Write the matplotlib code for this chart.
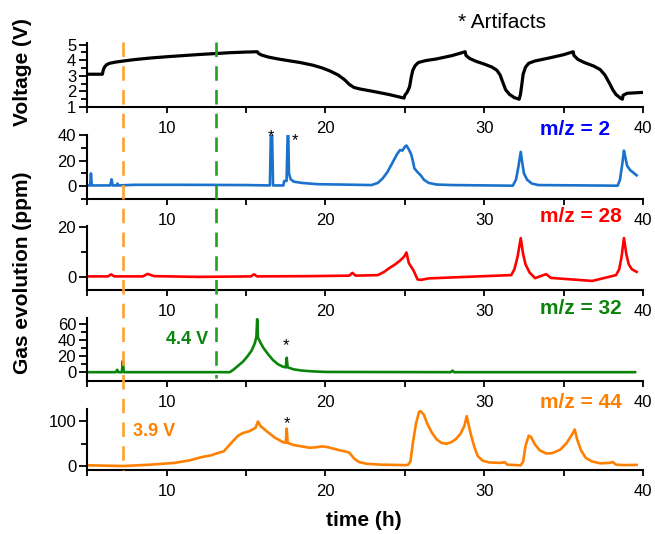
import matplotlib
matplotlib.use("Agg")
import matplotlib.pyplot as plt
from matplotlib.lines import Line2D
from matplotlib.transforms import blended_transform_factory
from matplotlib.ticker import MultipleLocator, FixedLocator

plt.rcParams['font.family'] = ['Liberation Sans', 'DejaVu Sans']

# =========================
# DATA
# =========================
v_t = [5.0, 5.95, 6.0, 6.08, 6.2, 6.4, 6.8, 7.3, 8, 9, 10, 11, 12, 13, 14, 15, 15.7,
       15.8, 16.0, 16.4, 17, 17.6, 18.4, 19.2, 19.8, 20.3, 20.8, 21.2, 21.5, 21.8,
       22.2, 23, 24, 24.95,
       25.0, 25.15, 25.3, 25.4, 25.5, 25.65, 25.85, 26.3, 27, 28, 28.8,
       28.85, 29.1, 29.5, 30.0, 30.5, 30.8, 31.0, 31.2, 31.35, 31.6, 31.9, 32.2,
       32.28, 32.35, 32.45, 32.6, 32.8, 33.2, 34, 35, 35.6,
       35.65, 35.9, 36.3, 36.9, 37.3, 37.6, 37.9, 38.1, 38.3, 38.6, 38.7,
       38.75, 39.0, 39.9]
v_val = [3.1, 3.1, 3.35, 3.55, 3.7, 3.8, 3.88, 3.95, 4.04, 4.14, 4.22, 4.29, 4.36,
         4.42, 4.48, 4.52, 4.54,
         4.42, 4.32, 4.2, 4.08, 3.98, 3.85, 3.68, 3.5, 3.3, 3.05, 2.75, 2.45, 2.25,
         2.15, 2.0, 1.8, 1.57,
         1.75, 1.95, 2.3, 2.9, 3.35, 3.65, 3.85, 3.97, 4.08, 4.3, 4.54,
         4.3, 4.1, 3.92, 3.75, 3.55, 3.35, 3.05, 2.5, 2.1, 1.8, 1.6, 1.5,
         1.8, 2.3, 3.1, 3.55, 3.8, 3.95, 4.12, 4.35, 4.54,
         4.3, 4.05, 3.85, 3.62, 3.4, 3.05, 2.5, 2.1, 1.8, 1.55, 1.5,
         1.75, 1.88, 1.93]

h2_t = [5.0, 5.18, 5.23, 5.28, 6.45, 6.53, 6.6, 6.85, 6.9, 6.95, 8.0, 11.0, 15.0,
        16.5, 16.56, 16.6, 16.64, 16.7, 17.35, 17.4, 17.55, 17.62, 17.66, 17.7,
        17.8, 18.0, 18.5, 19.5, 22.9, 23.3, 23.6, 23.9, 24.2, 24.5, 24.7, 24.85,
        25.0, 25.1, 25.25, 25.4, 25.5, 25.6, 25.8, 26.0, 26.2, 26.5, 27.0, 28.0,
        31.8, 32.0, 32.15, 32.3, 32.4, 32.5, 32.7, 33.0, 33.4,
        38.4, 38.55, 38.7, 38.8, 38.9, 39.0, 39.2, 39.4, 39.6]
h2_val = [0.5, 0.5, 10, 0.5, 0.5, 5.3, 0.5, 0.5, 2, 0.5, 1, 1, 0.8,
          0.5, 40, 40, 40, 0.5, 0.5, 4, 4, 40, 40, 10,
          5.5, 3.5, 2.5, 1.5, 0.8, 2.5, 6, 11, 18, 25, 28.5, 28,
          31, 32, 29, 25, 20, 14, 11, 8.5, 5, 2.5, 1.2, 0.8,
          0.3, 5, 15, 27, 18, 10, 5, 2, 0.8,
          0.3, 5, 18, 28, 22, 16, 12.5, 10.5, 8.5]

h28_t = [5.0, 6.3, 6.5, 6.7, 8.5, 8.8, 9.2, 12.0, 15.3, 15.5, 15.7, 19.0,
         21.5, 21.7, 21.9, 23.3, 23.7, 24.0, 24.4, 24.7, 24.95, 25.1, 25.25, 25.4,
         25.55, 25.8, 26.0, 26.5, 28.8, 31.7, 31.9, 32.1, 32.3, 32.45, 32.6, 32.85,
         33.2, 33.9, 34.2, 36.8, 38.3, 38.5, 38.65, 38.8, 38.95, 39.1, 39.3, 39.6]
h28_val = [0.2, 0.2, 1.0, 0.2, 0.2, 1.2, 0.3, 0, 0.2, 1.0, 0.2, 0.3,
           0.5, 1.6, 0.5, 0.7, 2, 3.4, 5, 6.5, 8, 9.7, 5.5, 4,
           2.5, -1, -1.2, -0.6, 0, 0.7, 3, 8, 15.4, 9, 5, 1.8,
           -0.5, 1.1, -0.4, -1.6, 0.7, 3, 8, 15.4, 9, 5, 3, 2]

h32_t = [5.0, 6.8, 6.88, 6.96, 7.18, 7.24, 7.3, 13.97, 14.2, 14.5, 14.8, 15.1,
         15.35, 15.55, 15.65, 15.7, 15.75, 15.9, 16.1, 16.4, 16.7, 17.0, 17.3,
         17.5, 17.56, 17.62, 18.0, 18.5, 19.2, 20.0, 27.9, 28.0, 28.1, 39.5]
h32_val = [0, 0, 3, 0, 0, 14, 0, 0, 3, 8, 13, 20,
           27, 36, 44, 66, 43, 37, 30, 22, 15, 10, 7,
           6, 18, 6, 3.5, 2, 1, 0.3, 0, 2, 0, 0]

h44_t = [5.0, 7.3, 9.0, 10.5, 11.5, 12.2, 12.8, 13.3, 13.6, 13.9, 14.2, 14.5,
         14.8, 15.2, 15.6, 15.75, 15.9, 16.3, 16.8, 17.3, 17.5, 17.56, 17.62,
         18.0, 18.5, 19.0, 19.4, 19.8, 20.2, 20.7, 21.2, 21.5, 21.8, 22.1, 22.6,
         23.5, 25.0, 25.2, 25.35, 25.5, 25.7, 25.9, 26.0, 26.2, 26.4, 26.7, 27.0,
         27.3, 27.6, 27.9, 28.2, 28.5, 28.75, 28.9, 29.0, 29.2, 29.4, 29.6, 29.9,
         30.3, 31.0, 31.3, 31.45, 32.3, 32.45, 32.6, 32.8, 32.95, 33.2, 33.5,
         33.9, 34.3, 34.8, 35.2, 35.6, 35.7, 35.85, 36.1, 36.4, 36.8, 37.3, 37.9,
         38.1, 38.3, 38.8, 39.6]
h44_val = [1.5, 0, 3, 7, 13, 20, 24, 30, 33, 45, 57, 68,
           74, 78, 86, 100, 90, 78, 64, 54, 52, 84, 52,
           47, 44, 41, 42, 44, 42, 37, 33, 30, 17, 9, 5,
           3, 2, 2.5, 10, 50, 95, 122, 123, 115, 96, 75, 60,
           52, 50, 53, 60, 72, 90, 112, 95, 65, 40, 22, 12,
           8, 7, 8.5, 3, 1.5, 10, 45, 68, 65, 48, 35,
           28, 29, 37, 52, 75, 82, 60, 35, 18, 10, 6, 7,
           9, 3, 2, 2.5]

x_major = [10, 20, 30, 40]
x_minor = [5, 15, 25, 35]
v_charge_1 = 7.24   # 3.9 V marker
v_charge_2 = 13.13  # 4.4 V marker

# =========================
# FIGURE
# =========================
fig = plt.figure(figsize=(6.55, 5.34), dpi=100)
W, H = 655.0, 534.0
left, right = 87.3, 643.0

# (top px, bottom px) of each panel
rows = [(43, 107), (135, 199), (226, 290), (318, 381), (409, 470)]
axes = []
for top, bot in rows:
    ax = fig.add_axes([left / W, (H - bot) / H, (right - left) / W, (bot - top) / H])
    ax.set_xlim(5, 40)
    for s in ['top', 'right']:
        ax.spines[s].set_visible(False)
    for s in ['left', 'bottom']:
        ax.spines[s].set_linewidth(1.5)
    ax.xaxis.set_major_locator(FixedLocator(x_major))
    ax.xaxis.set_minor_locator(FixedLocator(x_minor))
    ax.tick_params(axis='x', which='both', direction='out', length=4.5, width=1.3,
                   labelsize=12, pad=5.5)
    ax.tick_params(axis='y', which='major', direction='out', length=6, width=1.3,
                   labelsize=12, pad=2)
    ax.tick_params(axis='y', which='minor', direction='out', length=4, width=1.3)
    ax.patch.set_alpha(0)
    axes.append(ax)

ax1, ax2, ax3, ax4, ax5 = axes

ax1.plot(v_t, v_val, color='black', lw=2.3)
ax1.set_ylim(1, 5.1)
ax1.yaxis.set_major_locator(MultipleLocator(1))
ax1.yaxis.set_minor_locator(MultipleLocator(0.5))

ax2.plot(h2_t, h2_val, color='#1a72cc', lw=1.9)
ax2.set_ylim(-10.2, 40.3)
ax2.yaxis.set_major_locator(FixedLocator([0, 20, 40]))
ax2.yaxis.set_minor_locator(FixedLocator([-10, 10, 30]))

ax3.plot(h28_t, h28_val, color='#ff0000', lw=1.9)
ax3.set_ylim(-5.2, 20.2)
ax3.yaxis.set_major_locator(FixedLocator([0, 20]))
ax3.yaxis.set_minor_locator(FixedLocator([10]))

ax4.plot(h32_t, h32_val, color='#0a840a', lw=1.9)
ax4.set_ylim(-11, 67.5)
ax4.yaxis.set_major_locator(FixedLocator([0, 20, 40, 60]))
ax4.yaxis.set_minor_locator(FixedLocator([10, 30, 50]))

ax5.plot(h44_t, h44_val, color='#ff8000', lw=1.9)
ax5.set_ylim(-9, 128)
ax5.yaxis.set_major_locator(FixedLocator([0, 100]))
ax5.yaxis.set_minor_locator(FixedLocator([50]))

# =========================
# DASHED MARKERS
# =========================
trans = blended_transform_factory(ax5.transData, fig.transFigure)
fig.add_artist(Line2D([v_charge_1, v_charge_1], [(H - 42) / H, (H - 470) / H],
                      transform=trans, color='#ffa030', lw=1.9,
                      linestyle=(0, (5.5, 3.5))))
fig.add_artist(Line2D([v_charge_2, v_charge_2], [(H - 42) / H, (H - 378) / H],
                      transform=trans, color='#22a022', lw=1.9,
                      linestyle=(0, (5.5, 3.5))))

# =========================
# LABELS
# =========================
labels = [(ax2, 'm/z = 2', '#0000ff', 6), (ax3, 'm/z = 28', '#ff0000', 10),
          (ax4, 'm/z = 32', '#0a840a', 10), (ax5, 'm/z = 44', '#ff8000', 6)]
for ax, txt, col, off in labels:
    top, bot = rows[axes.index(ax)]
    tr = blended_transform_factory(ax.transData, ax.transAxes)
    ax.text(33.5, 1 + off / (bot - top), txt, transform=tr, color=col,
            fontsize=15, fontweight='bold', ha='left', va='center', clip_on=False)

ax2.text(16.6, 39.2, '*', fontsize=12, ha='center', va='center', clip_on=False)
ax2.text(18.1, 36, '*', fontsize=12, ha='center', va='center', clip_on=False)
ax4.text(17.54, 33, '*', fontsize=12, ha='center', va='center')
ax5.text(17.6, 95, '*', fontsize=12, ha='center', va='center')

ax4.text(11.27, 41, '4.4 V', color='#0a840a', fontsize=13, fontweight='bold',
         ha='center', va='center')
ax5.text(9.2, 77, '3.9 V', color='#ff8000', fontsize=13, fontweight='bold',
         ha='center', va='center')

fig.text(502 / W, 1 - 23 / H, '* Artifacts', fontsize=15, ha='center', va='center')
fig.text(23 / W, 1 - 72 / H, 'Voltage (V)', fontsize=15, fontweight='bold',
         rotation=90, ha='center', va='center')
fig.text(22.5 / W, 1 - 273 / H, 'Gas evolution (ppm)', fontsize=15, fontweight='bold',
         rotation=90, ha='center', va='center')
fig.text(364 / W, 1 - 521 / H, 'time (h)', fontsize=15, fontweight='bold',
         ha='center', va='center')

fig.savefig('out.png', dpi=100)
